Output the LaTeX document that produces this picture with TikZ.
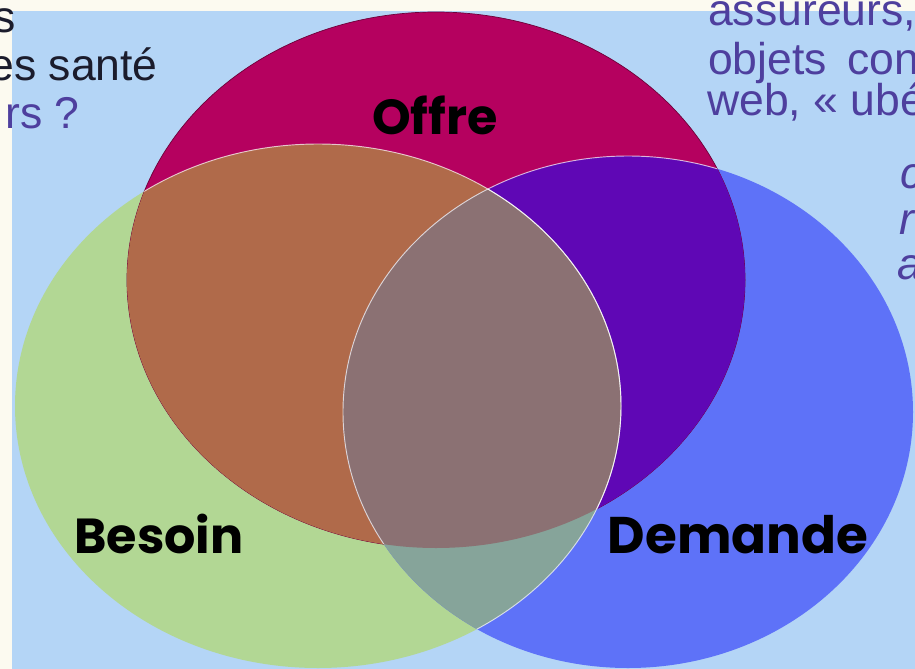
\documentclass[tikz,border=0pt]{standalone}
\usepackage{fontspec}
\setmainfont{Liberation Sans}
\newfontfamily\vennfont{Poppins}

\definecolor{paper}{HTML}{FCFAF0}
\definecolor{sky}{HTML}{B4D5F6}
\definecolor{offrecol}{HTML}{B5015F}
\definecolor{besoincol}{HTML}{B2D794}
\definecolor{demandecol}{HTML}{5E72F8}
\definecolor{obcol}{HTML}{B06A4A}
\definecolor{odcol}{HTML}{5F07B5}
\definecolor{bdcol}{HTML}{86A49A}
\definecolor{allcol}{HTML}{8B7173}
\definecolor{inkpurple}{HTML}{4E3F9E}
\definecolor{inkdark}{HTML}{1B1C2C}

% The three sets, as ellipses (in pixels of the slide).
\newcommand\offreset{(436,280) ellipse [x radius=309,y radius=268]}
\newcommand\besoinset{(318,406) ellipse [x radius=303,y radius=262]}
\newcommand\demandeset{(628,412) ellipse [x radius=285,y radius=256]}

\tikzset{every picture/.style={
  x=0.03cm,y=-0.03cm
  }
}

\begin{document}
\begin{tikzpicture}[
    txt/.style={font=\fontsize{38}{42}\selectfont,inner sep=0pt},
    slanted/.style={txt,font=\fontsize{38}{42}\selectfont\itshape},
    setname/.style={font=\vennfont\bfseries\fontsize{42}{42}\selectfont,
      inner sep=0pt,anchor=base},
    rim/.style={draw=white,opacity=.7,line width=.8pt}
  ]

  \useasboundingbox (0,0) rectangle (915,669);
  \clip (0,0) rectangle (915,669);

  % Slide background.
  \fill[paper] (0,0) rectangle (915,669);
  \fill[sky] (12,11) rectangle (915,669);

  % Draw the three sets.
  \fill[besoincol] \besoinset;
  \fill[demandecol] \demandeset;
  \fill[offrecol] \offreset;
  \draw[offrecol!60!black,line width=.6pt] \offreset;

  % .. and their overlaps.
  \begin{scope}
    \clip \offreset;
    \fill[obcol] \besoinset;
    \fill[odcol] \demandeset;
  \end{scope}
  \begin{scope}
    \clip \besoinset;
    \fill[bdcol] \demandeset;
    \clip \offreset;
    \fill[allcol] \demandeset;
  \end{scope}

  % Light rims where the sets cross.
  \begin{scope}
    \clip \offreset;
    \draw[rim] \besoinset;
    \draw[rim] \demandeset;
  \end{scope}
  \begin{scope}
    \clip \demandeset;
    \draw[rim] \besoinset;
  \end{scope}

  % Name the sets.
  \node[setname] (offre) at (435,134) {Offre};
  \node[setname] (besoin) at (159,553) {Besoin};
  \node[setname,font=\vennfont\bfseries\fontsize{44}{44}\selectfont]
    (demande) at (738,553) {Demande};

  % Slide text cut off at the edges.
  \node[txt,anchor=base east,text=inkdark] (left1) at (16,32) {s};
  \node[txt,anchor=base east,text=inkdark] (left2) at (158,80) {es santé};
  \node[txt,anchor=base east,text=inkpurple] (left3) at (80,128) {rs ?};

  \node[txt,anchor=base west,text=inkpurple] (right1) at (708,25) {assureurs,};
  \node[txt,anchor=base west,text=inkpurple] (right2) at (708,74)
    {objets\hspace{.45em}con};
  \node[txt,anchor=base west,text=inkpurple] (right3) at (707,115)
    {web,~«~ubé};

  \node[slanted,anchor=base west,text=inkpurple] (right4) at (900,188) {c};
  \node[slanted,anchor=base west,text=inkpurple] (right5) at (899,234) {r};
  \node[slanted,anchor=base west,text=inkpurple] (right6) at (897,279) {a};
\end{tikzpicture}
\end{document}
